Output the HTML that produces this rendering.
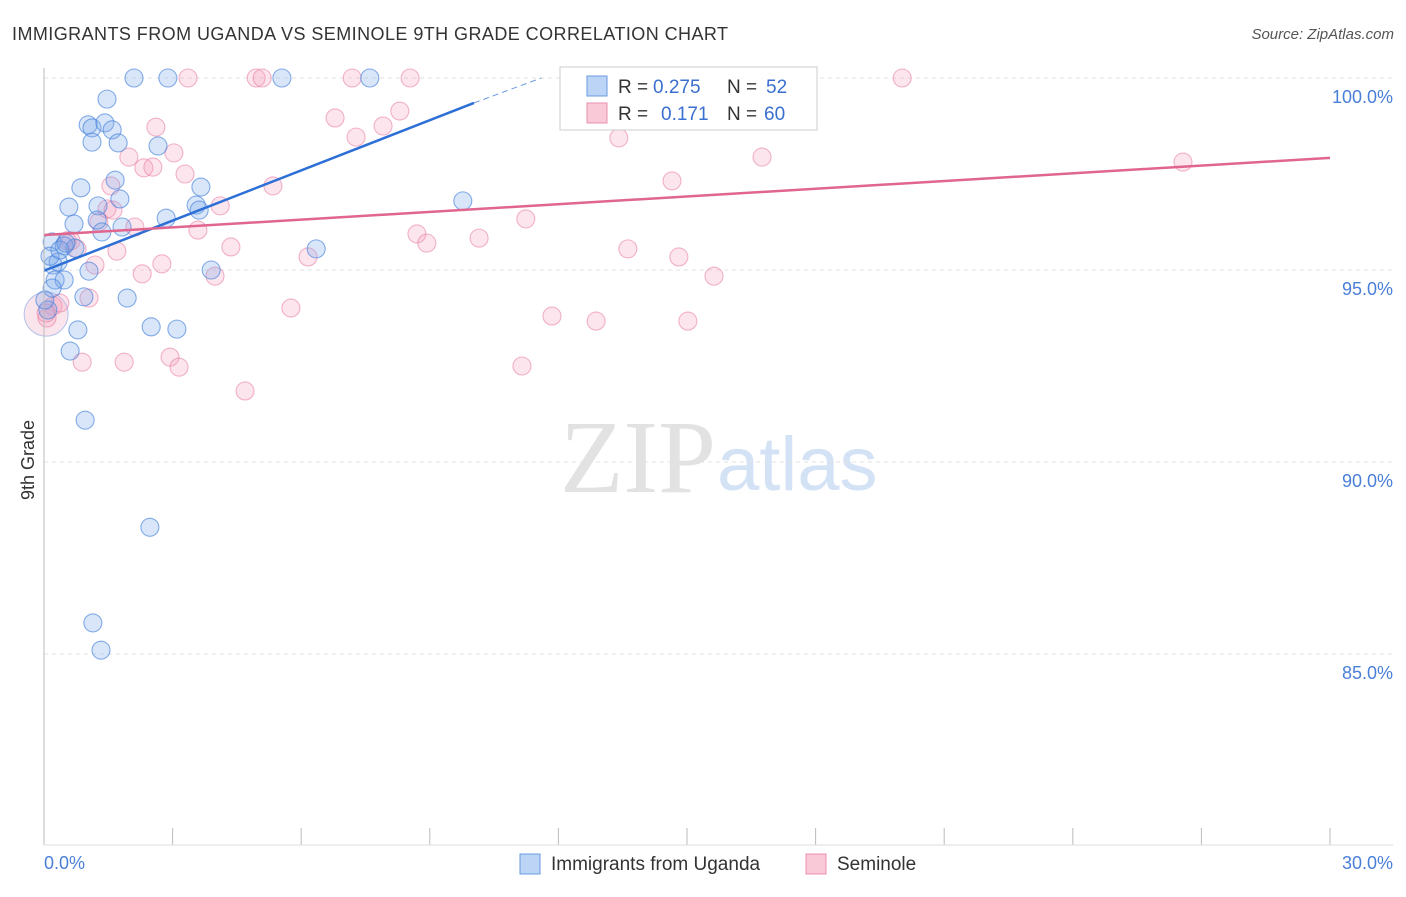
<!DOCTYPE html>
<html><head><meta charset="utf-8"><style>
body{margin:0;background:#fff;font-family:"Liberation Sans",sans-serif}
</style></head><body>
<svg id="c" width="1406" height="892" xmlns="http://www.w3.org/2000/svg">
<text x="12" y="40" font-size="18" fill="#333" textLength="716">IMMIGRANTS FROM UGANDA VS SEMINOLE 9TH GRADE CORRELATION CHART</text>
<text x="1394" y="39" font-size="15" fill="#555" font-style="italic" text-anchor="end">Source: ZipAtlas.com</text>
<text x="34" y="460" font-size="18" fill="#333" transform="rotate(-90 34 460)" text-anchor="middle">9th Grade</text>
<text x="716" y="492" font-size="104" fill="#e2e2e2" text-anchor="end" font-family="Liberation Serif">ZIP</text>
<text x="717" y="490" font-size="76" fill="#d4e2f5">atlas</text>
<g id="grid"></g><g id="pts"></g><g id="lines"></g>
<line x1="44" y1="68" x2="44" y2="845" stroke="#bbb"/>
<line x1="44" y1="845" x2="1393" y2="845" stroke="#ddd"/>
<text x="44" y="869" font-size="18" fill="#4a7fd8">0.0%</text>
<text x="1393" y="869" font-size="18" fill="#4a7fd8" text-anchor="end">30.0%</text>
<g>
<rect x="560" y="67" width="257" height="63" fill="#fff" stroke="#ccc"/>
<rect x="587" y="76" width="20" height="20" fill="#bcd4f6" stroke="#6a9ae0"/>
<rect x="587" y="103" width="20" height="20" fill="#f9c9d8" stroke="#e890ae"/>
<text x="618" y="93" font-size="19" fill="#333">R =</text>
<text x="653" y="93" font-size="19" fill="#3a6fd0">0.275</text>
<text x="727" y="93" font-size="19" fill="#333">N =</text>
<text x="766" y="93" font-size="19" fill="#3a6fd0">52</text>
<text x="618" y="120" font-size="19" fill="#333">R =</text>
<text x="661" y="120" font-size="19" fill="#3a6fd0">0.171</text>
<text x="727" y="120" font-size="19" fill="#333">N =</text>
<text x="764" y="120" font-size="19" fill="#3a6fd0">60</text>
</g>
<g><rect x="520" y="854" width="20" height="20" fill="#bcd4f6" stroke="#6a9ae0"/><text x="551" y="870" font-size="19" fill="#333">Immigrants from Uganda</text></g>
<g><rect x="806" y="854" width="20" height="20" fill="#f9c9d8" stroke="#e890ae"/><text x="837" y="870" font-size="19" fill="#333">Seminole</text></g>
</svg>
<script>
const yTicks=[100,95,90,85];
const xTickCount=10;
const blueX=[2.10,2.89,5.55,7.60,1.47,1.03,1.12,1.42,1.59,1.12,1.73,2.66,1.66,0.86,3.66,1.77,0.58,1.26,3.55,3.62,1.24,2.85,0.70,1.35,1.82,9.77,0.19,0.47,0.72,6.35,0.33,0.21,1.05,3.90,0.26,0.47,0.19,0.93,1.94,2.50,3.10,0.79,0.61,0.96,2.47,1.14,1.33,0.09,0.02,0.14,0.37,0.51];
const blueY=[100,100,100,100,99.45,98.78,98.70,98.83,98.65,98.33,98.31,98.23,97.34,97.14,97.16,96.85,96.64,96.67,96.69,96.56,96.30,96.35,96.20,95.99,96.12,96.80,95.73,95.63,95.57,95.55,95.21,95.13,94.97,95.00,94.74,94.74,94.53,94.30,94.27,93.52,93.46,93.44,92.89,91.09,88.30,85.81,85.10,93.96,94.22,95.36,95.52,95.70];
const pinkX=[3.36,4.95,5.09,7.19,8.54,20.02,8.30,6.79,7.91,2.61,7.28,13.41,3.03,1.98,16.75,2.33,2.54,3.29,26.57,14.65,1.56,5.34,4.11,1.47,11.24,2.12,3.59,8.70,10.15,8.93,4.36,0.63,0.77,1.70,13.62,14.81,6.16,1.19,2.75,2.29,3.99,15.63,1.05,5.76,11.85,12.88,15.02,0.89,1.87,2.94,3.15,11.15,4.69,0.21,0.37,0.54,1.61,0.07,1.28,0.05];
const pinkY=[100,100,100,100,100,100,99.14,98.96,98.75,98.72,98.46,98.44,98.05,97.94,97.94,97.66,97.68,97.50,97.81,97.32,97.19,97.19,96.67,96.59,96.33,96.12,96.04,95.94,95.83,95.70,95.60,95.76,95.55,95.49,95.55,95.34,95.34,95.13,95.16,94.90,94.84,94.84,94.27,94.01,93.80,93.67,93.67,92.60,92.60,92.73,92.47,92.50,91.85,94.06,94.14,95.76,96.56,93.75,96.25,93.88];
const blueTrend=[0,94.98,10.03,99.35,11.6,100];
const pinkTrend=[0,95.91,30,97.92];
const sx=v=>44+v/30*1286, sy=v=>78+(100-v)*38.4;
const NS='http://www.w3.org/2000/svg';
function mk(t,a,p){const e=document.createElementNS(NS,t);for(const k in a)e.setAttribute(k,a[k]);p.appendChild(e);return e;}
const grid=document.getElementById('grid');
yTicks.forEach(v=>{
 const l=mk('line',{x1:44,x2:1393,y1:sy(v),y2:sy(v),stroke:'#e2e2e2','stroke-dasharray':'4 4'},grid);
 
 
 const t=mk('text',{x:1393,y:sy(v)+25,'font-size':18,fill:'#4a7fd8','text-anchor':'end'},grid);
 t.textContent=v.toFixed(1)+'%';
 
 
});
for(let i=1;i<=xTickCount;i++){
 const l=mk('line',{x1:sx(i*3),x2:sx(i*3),y1:828,y2:845,stroke:'#bbb'},grid);
 
 
}
const pts=document.getElementById('pts');
const big1=mk('circle',{cx:sx(0.05),cy:sy(93.85),r:22,fill:'rgba(240,150,180,0.25)',stroke:'rgba(110,150,225,0.5)'},pts);


pinkX.forEach((x,i)=>{
 const c=mk('circle',{cx:sx(x),cy:sy(pinkY[i]),r:9,fill:'rgba(245,160,190,0.28)',stroke:'rgba(232,120,160,0.55)','stroke-width':1.1},pts);
 
 
});
blueX.forEach((x,i)=>{
 const c=mk('circle',{cx:sx(x),cy:sy(blueY[i]),r:9,fill:'rgba(120,165,235,0.28)',stroke:'rgba(70,130,220,0.65)','stroke-width':1.1},pts);
 
 
});
const lines=document.getElementById('lines');
const bl=mk('line',{x1:sx(blueTrend[0]),y1:sy(blueTrend[1]),x2:sx(blueTrend[2]),y2:sy(blueTrend[3]),stroke:'#2d6fd6','stroke-width':2.5},lines);


const bd=mk('line',{x1:sx(blueTrend[2]),y1:sy(blueTrend[3]),x2:sx(blueTrend[4]),y2:sy(blueTrend[5]),stroke:'#6a9ae0','stroke-width':1,'stroke-dasharray':'6 4'},lines);


const pl=mk('line',{x1:sx(pinkTrend[0]),y1:sy(pinkTrend[1]),x2:sx(pinkTrend[2]),y2:sy(pinkTrend[3]),stroke:'#e0658f','stroke-width':2.5},lines);


</script>
</body></html>
